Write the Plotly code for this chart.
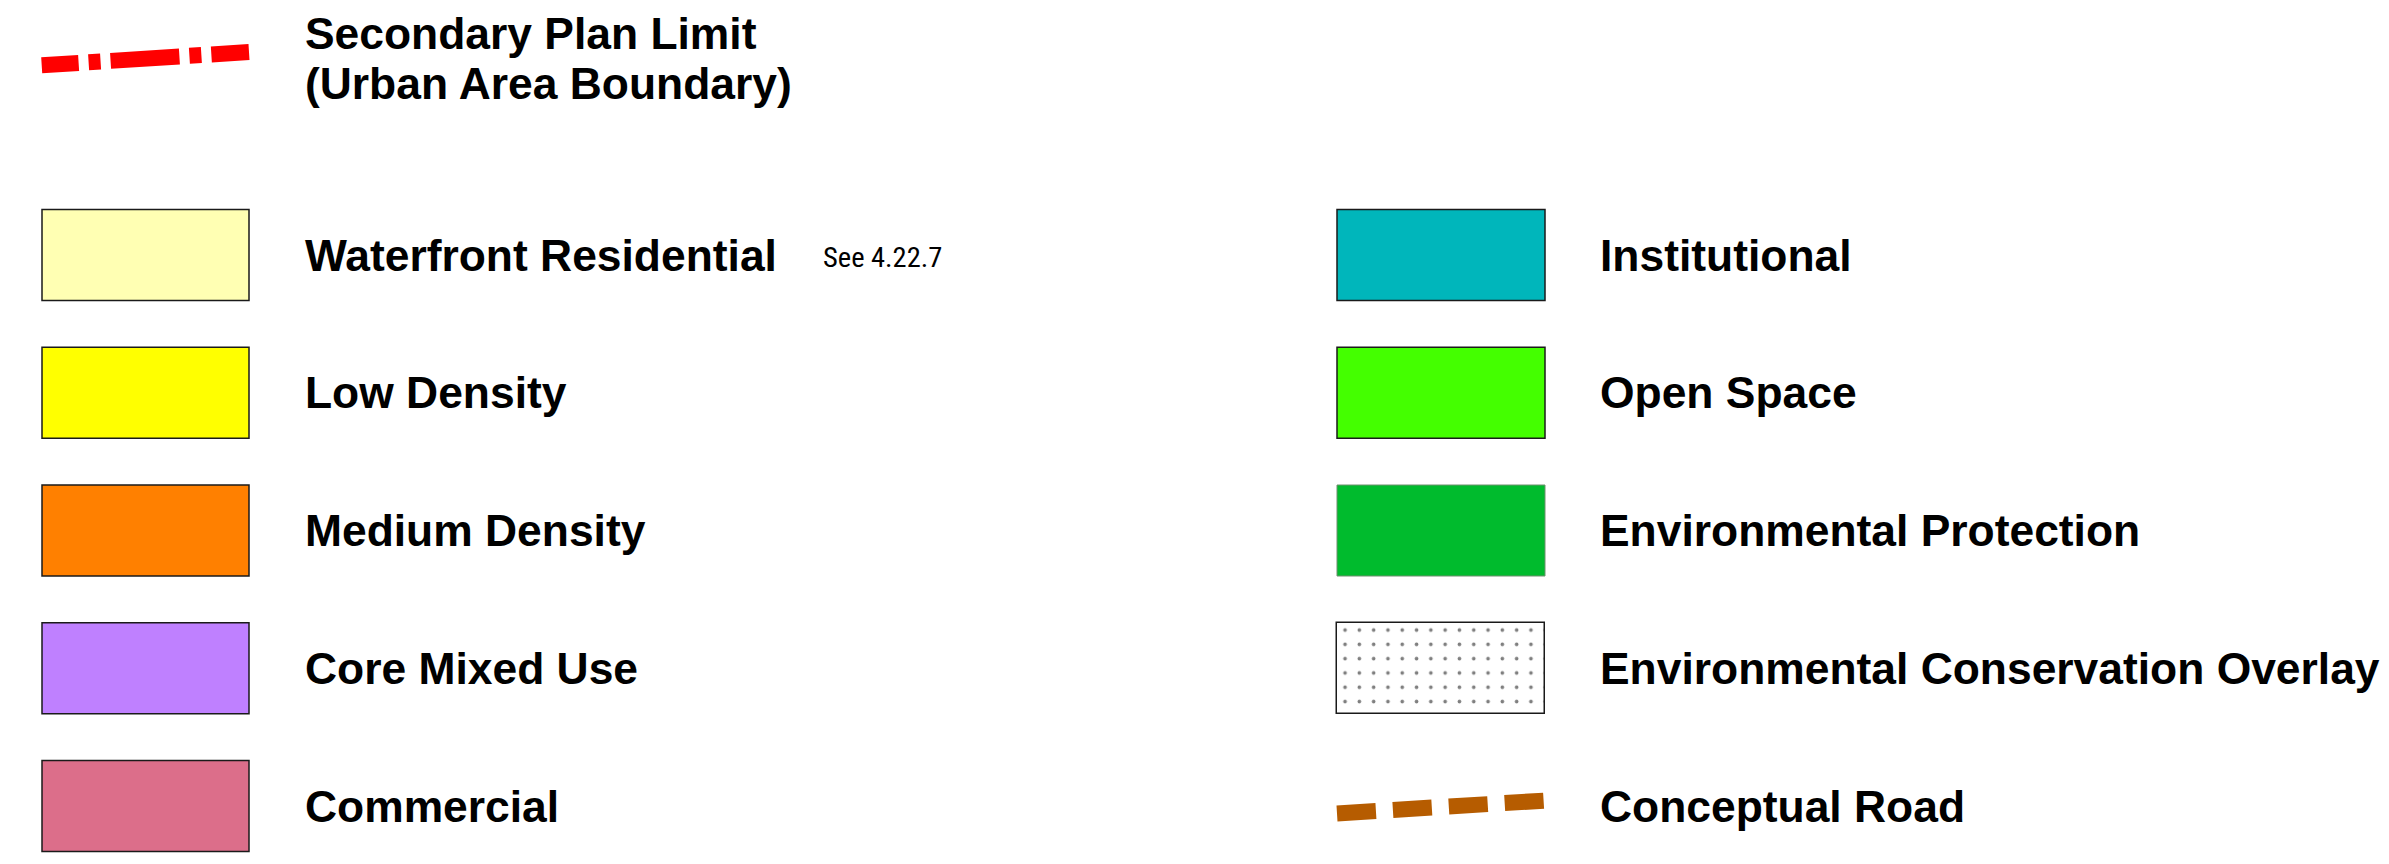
import plotly.graph_objects as go

# ---- legend content ----
title_lines = ["Secondary Plan Limit", "(Urban Area Boundary)"]
left_labels = ["Waterfront Residential", "Low Density", "Medium Density", "Core Mixed Use", "Commercial"]
left_colors = ["#FFFFB3", "#FFFF00", "#FF8000", "#BF80FF", "#DC6E8A"]
right_labels = ["Institutional", "Open Space", "Environmental Protection",
                "Environmental Conservation Overlay", "Conceptual Road"]
right_colors = ["#00B6BB", "#44FF00", "#00BB2D", "#FFFFFF", "#B65C00"]
note_text = "See 4.22.7"
boundary_color = "#FF0000"

# ---- layout constants (pixels) ----
W, H = 2389, 864
OFF = 8  # page body margin
LX0, LX1 = 42, 249
RX0, RX1 = 1337, 1545
LTX, RTX = 303, 1598
ROW_TOP0, ROW_STEP, ROW_H = 209.5, 137.75, 91
FONT_MAIN = "Liberation Sans, Arial, Helvetica, sans-serif"
FONT_NARROW = "Liberation Sans Narrow, Roboto Condensed, DejaVu Sans Condensed, sans-serif"
FS = 44.4

fig = go.Figure()
shapes = []
annotations = []

# boundary line (dash-dot)
shapes.append(dict(type="line", xref="x", yref="y", x0=41.7, y0=65.3, x1=249, y1=52,
                   line=dict(color=boundary_color, width=16,
                             dash="37px,10px,12px,10px,69px,10px,12px,10px,40px,10px")))
for k, t in enumerate(title_lines):
    annotations.append(dict(x=LTX, y=33.5 + k * 50, xref="x", yref="y", text="<b>%s</b>" % t,
                            showarrow=False, xanchor="left", yanchor="middle",
                            font=dict(family=FONT_MAIN, size=FS, color="black")))

def row_top(i):
    return ROW_TOP0 + i * ROW_STEP

# left column
for i, (lab, col) in enumerate(zip(left_labels, left_colors)):
    t = row_top(i)
    shapes.append(dict(type="rect", xref="x", yref="y", x0=LX0, x1=LX1, y0=t, y1=t + ROW_H,
                       fillcolor=col, line=dict(color="#1a1a1a", width=1.5)))
    annotations.append(dict(x=LTX, y=t + ROW_H / 2, xref="x", yref="y", text="<b>%s</b>" % lab,
                            showarrow=False, xanchor="left", yanchor="middle",
                            font=dict(family=FONT_MAIN, size=FS, color="black")))
annotations.append(dict(x=821, y=row_top(0) + ROW_H / 2 + 2, xref="x", yref="y", text=note_text,
                        showarrow=False, xanchor="left", yanchor="middle",
                        font=dict(family=FONT_NARROW, size=28.5, color="black")))

# right column
for i, (lab, col) in enumerate(zip(right_labels, right_colors)):
    t = row_top(i)
    if lab == "Environmental Conservation Overlay":
        fig.add_trace(go.Bar(x=[(RX0 + RX1) / 2], y=[ROW_H], base=[t], width=[RX1 - RX0],
                             marker=dict(color="white", line=dict(color="#1a1a1a", width=1.5),
                                         pattern=dict(shape=".", size=14.3, solidity=0.05,
                                                      fgcolor="black", bgcolor="white",
                                                      fillmode="overlay")),
                             hoverinfo="skip", showlegend=False))
    elif lab == "Conceptual Road":
        shapes.append(dict(type="line", xref="x", yref="y", x0=RX0, y0=813.5, x1=RX1 + 1, y1=800.5,
                           line=dict(color=col, width=16, dash="39px,17px")))
    elif lab == "Environmental Protection":
        shapes.append(dict(type="rect", xref="x", yref="y", x0=RX0, x1=RX1, y0=t, y1=t + ROW_H,
                           fillcolor=col, line=dict(color="#6f8f6f", width=1)))
    else:
        shapes.append(dict(type="rect", xref="x", yref="y", x0=RX0, x1=RX1, y0=t, y1=t + ROW_H,
                           fillcolor=col, line=dict(color="#1a1a1a", width=1.5)))
    annotations.append(dict(x=RTX, y=t + ROW_H / 2, xref="x", yref="y", text="<b>%s</b>" % lab,
                            showarrow=False, xanchor="left", yanchor="middle",
                            font=dict(family=FONT_MAIN, size=FS, color="black")))

fig.update_layout(
    width=W, height=H,
    margin=dict(l=0, r=0, t=0, b=0),
    paper_bgcolor="white", plot_bgcolor="white",
    xaxis=dict(range=[OFF, W + OFF], visible=False, fixedrange=True),
    yaxis=dict(range=[H + OFF, OFF], visible=False, fixedrange=True),
    shapes=shapes, annotations=annotations,
    showlegend=False, bargap=0,
)
fig.write_html("out.html")
